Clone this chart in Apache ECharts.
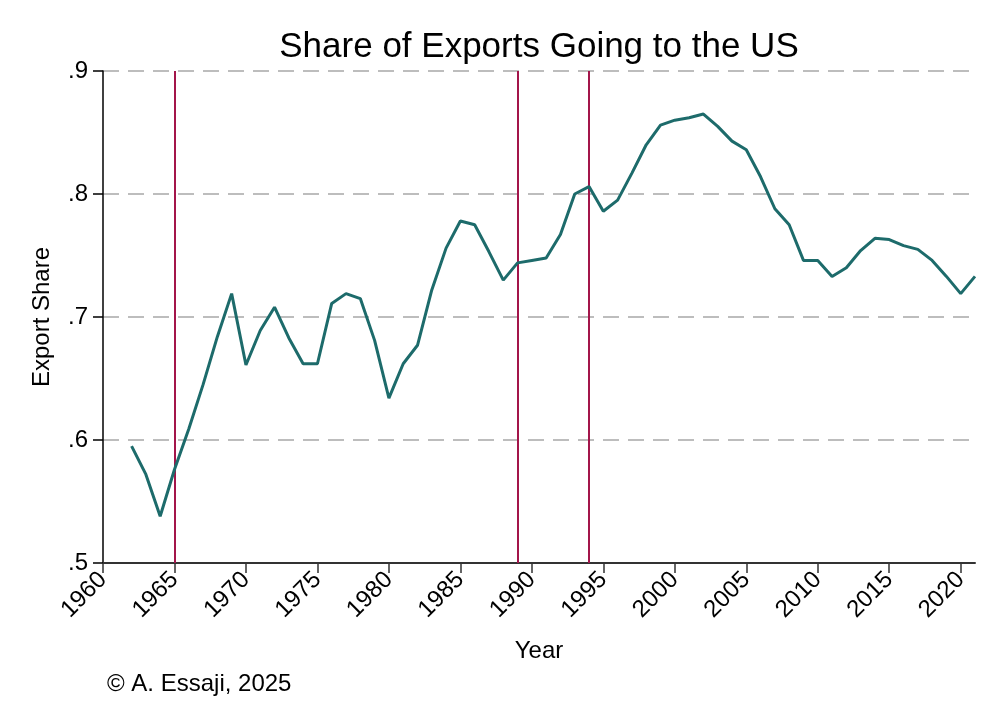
<!DOCTYPE html>
<html>
<head>
<meta charset="utf-8">
<script src="https://cdn.jsdelivr.net/npm/echarts@6/dist/echarts.min.js"></script>
<style>html,body{margin:0;padding:0;background:#fff;}#chart{width:1000px;height:728px;}</style>
</head>
<body>
<div id="chart"></div>
<script>
const years = [1962,1963,1964,1965,1966,1967,1968,1969,1970,1971,1972,1973,1974,1975,1976,1977,1978,1979,1980,1981,1982,1983,1984,1985,1986,1987,1988,1989,1990,1991,1992,1993,1994,1995,1996,1997,1998,1999,2000,2001,2002,2003,2004,2005,2006,2007,2008,2009,2010,2011,2012,2013,2014,2015,2016,2017,2018,2019,2020,2021];
const exportShare = [0.595,0.572,0.538,0.576,0.609,0.645,0.684,0.719,0.661,0.689,0.708,0.683,0.662,0.662,0.711,0.719,0.715,0.681,0.634,0.662,0.677,0.722,0.756,0.778,0.775,0.753,0.730,0.744,0.746,0.748,0.767,0.800,0.806,0.786,0.795,0.817,0.840,0.856,0.860,0.862,0.865,0.855,0.843,0.836,0.814,0.788,0.775,0.746,0.746,0.733,0.740,0.754,0.764,0.763,0.758,0.755,0.746,0.733,0.719,0.733];
const eventYears = [1965, 1989, 1994];
const xTicks = [1960,1965,1970,1975,1980,1985,1990,1995,2000,2005,2010,2015,2020];
const yTicks = [0.5,0.6,0.7,0.8,0.9];
const yTickLabels = ['.5','.6','.7','.8','.9'];

const font = '"Liberation Sans", Arial, Helvetica, sans-serif';
const chart = echarts.init(document.getElementById('chart'), null, {renderer: 'canvas'});
chart.setOption({
  backgroundColor: '#ffffff',
  animation: false,
  grid: {left: 103, right: 25, top: 71, bottom: 165},
  xAxis: {
    type: 'value', min: 1960, max: 2021, interval: 5,
    name: 'Year', nameLocation: 'middle', nameGap: 76,
    nameTextStyle: {fontFamily: font, fontSize: 24, color: '#000'},
    axisLine: {show: true, lineStyle: {color: '#333', width: 2}},
    axisTick: {show: true, length: 10, lineStyle: {color: '#333', width: 1.5}, customValues: xTicks},
    axisLabel: {rotate: 45, fontFamily: font, fontSize: 24, color: '#000', margin: 13, customValues: xTicks,
      formatter: v => String(v)},
    splitLine: {show: false}
  },
  yAxis: {
    type: 'value', min: 0.5, max: 0.9, interval: 0.1,
    name: 'Export Share', nameLocation: 'middle', nameGap: 49,
    nameTextStyle: {fontFamily: font, fontSize: 24, color: '#000'},
    axisLine: {show: true, lineStyle: {color: '#000', width: 1.5}},
    axisTick: {show: true, length: 10, lineStyle: {color: '#000', width: 1.5}},
    axisLabel: {fontFamily: font, fontSize: 24, color: '#000', margin: 15,
      formatter: v => { const i = yTicks.findIndex(t => Math.abs(t - v) < 1e-6); return i >= 0 ? yTickLabels[i] : ''; }},
    splitLine: {show: true, lineStyle: {color: '#bdbdbd', width: 2, type: [16, 9]}}
  },
  series: [{
    type: 'line',
    data: years.map((y, i) => [y, exportShare[i]]),
    symbol: 'none',
    lineStyle: {color: '#1d6b6b', width: 3},
    z: 3,
    markLine: {
      silent: true, symbol: 'none', label: {show: false},
      lineStyle: {color: '#a3154a', width: 2, type: 'solid'},
      data: eventYears.map(y => ({xAxis: y})),
      z: 2
    }
  }],
  graphic: [{
    type: 'text', x: 539, y: 47,
    style: {text: 'Share of Exports Going to the US', fontFamily: font, fontSize: 35, fill: '#000',
      textAlign: 'center', textVerticalAlign: 'middle'}
  }, {
    type: 'text', left: 107, top: 672,
    style: {text: '© A. Essaji, 2025', fontFamily: font, fontSize: 24, fill: '#000'}
  }]
});
</script>
</body>
</html>
